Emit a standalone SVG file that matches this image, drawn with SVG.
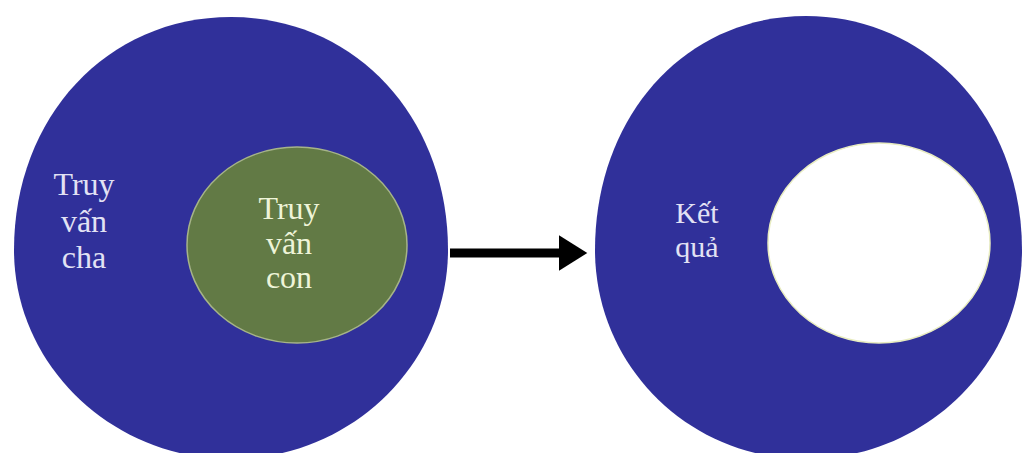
<svg xmlns="http://www.w3.org/2000/svg" width="1024" height="453" viewBox="0 0 1024 453">
<style>
.outer{fill:#30309a}
.lbl{font-family:"Liberation Serif","Times New Roman",serif;font-size:32px;text-anchor:middle}
.lblb{fill:#e2e2f4}
.lblg{fill:#eef4d8}
</style>
<defs>
<marker id="ah" markerWidth="4" markerHeight="4" refX="0.5" refY="2" orient="auto" markerUnits="strokeWidth">
<path d="M0,0 L3.2,2 L0,4 Z" fill="#000"/>
</marker>
</defs>
<rect width="1024" height="453" fill="#fff"/>
<g id="parent">
<path class="outer" d="M14,250 C14,117 107,17 231,17 C355,17 448,117 448,250 C448,365 350,459 231,459 C112,459 14,365 14,250 Z"/>
<text class="lbl lblb" x="84" y="195">Truy</text>
<text class="lbl lblb" x="84" y="232">vấn</text>
<text class="lbl lblb" x="84" y="268">cha</text>
</g>
<g id="child">
<ellipse cx="297" cy="245" rx="110" ry="98" fill="#627a45" stroke="#a6b488" stroke-width="1.5"/>
<text class="lbl lblg" x="289" y="219">Truy</text>
<text class="lbl lblg" x="289" y="254">vấn</text>
<text class="lbl lblg" x="289" y="288">con</text>
</g>
<g id="result">
<path class="outer" d="M595,250 C595,117 684,16 806,16 C928,16 1022,117 1022,250 C1022,365 924,459 806,459 C688,459 595,365 595,250 Z"/>
<ellipse cx="879" cy="243" rx="111" ry="100" fill="#fff" stroke="#e8ecc0" stroke-width="1.5"/>
<text class="lbl lblb" x="697" y="223" style="font-size:30px">Kết</text>
<text class="lbl lblb" x="697" y="257" style="font-size:30px">quả</text>
</g>
<g id="connectors">
<line x1="450" y1="253" x2="563" y2="253" stroke="#000" stroke-width="9" marker-end="url(#ah)"/>
</g>
</svg>
